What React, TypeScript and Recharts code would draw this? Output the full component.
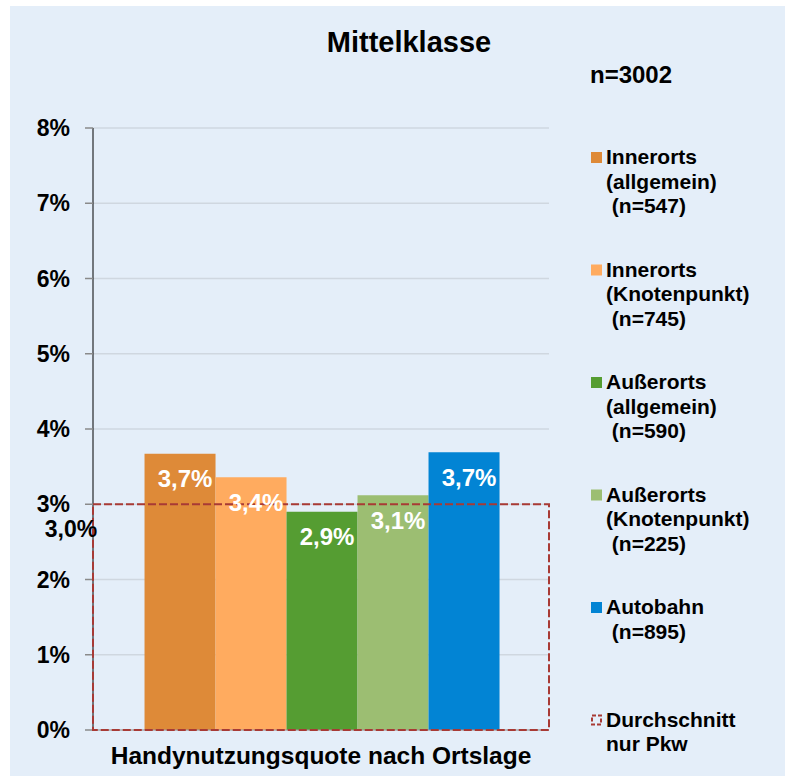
import React from "react";
import { BarChart, Bar, XAxis, YAxis, CartesianGrid, ReferenceArea, LabelList } from "recharts";

const title = "Mittelklasse";
const sampleSize = "n=3002";
const category = "Handynutzungsquote nach Ortslage";
const seriesKeys = ["innerAllg", "innerKnoten", "ausserAllg", "ausserKnoten", "autobahn"];
const seriesLegend = [
  ["Innerorts", "(allgemein)", " (n=547)"],
  ["Innerorts", "(Knotenpunkt)", " (n=745)"],
  ["Außerorts", "(allgemein)", " (n=590)"],
  ["Außerorts", "(Knotenpunkt)", " (n=225)"],
  ["Autobahn", " (n=895)"],
];
const values = [3.67, 3.36, 2.9, 3.12, 3.69];
const colors = ["#de8a38", "#ffab5f", "#559d32", "#9cbe72", "#0284d4"];
const average = 3.0;
const averageLegend = ["Durchschnitt", "nur Pkw"];
const yTicks = [0, 1, 2, 3, 4, 5, 6, 7, 8];

const FONT = "'Liberation Sans', Arial, Helvetica, sans-serif";
const AVG_COLOR = "#a83a35";

const row: Record<string, any> = { name: category };
seriesKeys.forEach((k, i) => {
  row[k] = values[i];
});
const data = [row];

const fmt = (v: number) => v.toFixed(1).replace(".", ",") + "%";

const BarLabel = (props: any) => {
  const { x, y, width, value } = props;
  return (
    <text
      x={Number(x) + Number(width) / 2 + 5}
      y={Number(y) + 25}
      fill="#ffffff"
      fontSize={24}
      fontWeight="bold"
      fontFamily={FONT}
      textAnchor="middle"
      dominantBaseline="central"
    >
      {fmt(Number(value))}
    </text>
  );
};

const AvgLabel = (props: any) => {
  const vb = props.viewBox || {};
  return (
    <text
      x={vb.x - 22}
      y={vb.y + 33}
      fill="#000"
      fontSize={23}
      fontWeight="bold"
      fontFamily={FONT}
      textAnchor="middle"
    >
      {fmt(average)}
    </text>
  );
};

const XTick = (props: any) => {
  const { x, y, payload } = props;
  return (
    <text x={x} y={y + 34} fill="#000" fontSize={24.5} fontWeight="bold" fontFamily={FONT} textAnchor="middle">
      {payload.value}
    </text>
  );
};

export default function App() {
  const legendTop = 152;
  const legendStep = 112.5;
  const lineStep = 24.5;
  return (
    <div style={{ position: "absolute", left: 0, top: 0, width: 785, height: 776, background: "#ffffff" }}>
      <div style={{ position: "absolute", left: 10, top: 6, right: 0, bottom: 0, background: "#e4eef9" }} />
      <div style={{ position: "absolute", left: 0, top: 0 }}>
        <BarChart
          width={785}
          height={776}
          data={data}
          margin={{ top: 128, right: 236, bottom: 0, left: 0 }}
          barCategoryGap="11.3%"
          barGap={0}
        >
          <CartesianGrid vertical={false} stroke="#cfd7e0" strokeWidth={1.5} />
          <XAxis
            dataKey="name"
            height={46}
            axisLine={{ stroke: "#9a9a9a" }}
            tickLine={false}
            tickSize={0}
            tickMargin={0}
            tick={<XTick />}
          />
          <YAxis
            width={93}
            domain={[0, 8]}
            ticks={yTicks}
            interval={0}
            tickFormatter={(v: number) => `${v}%`}
            axisLine={{ stroke: "#000" }}
            tickLine={{ stroke: "#8a8a8a", strokeWidth: 1.5 }}
            tickSize={8}
            tickMargin={15}
            tick={{ fill: "#000", fontSize: 23, fontWeight: "bold", fontFamily: FONT }}
          />
          {seriesKeys.map((k, i) => (
            <Bar key={k} dataKey={k} fill={colors[i]} isAnimationActive={false}>
              <LabelList dataKey={k} content={<BarLabel />} />
            </Bar>
          ))}
          <ReferenceArea
            y1={0}
            y2={average}
            fill="none"
            fillOpacity={0}
            stroke={AVG_COLOR}
            strokeWidth={2}
            strokeDasharray="8 3"
            label={<AvgLabel />}
            {...({ zIndex: 1000 } as any)}
          />
        </BarChart>
      </div>
      <svg
        width={785}
        height={776}
        style={{ position: "absolute", left: 0, top: 0, pointerEvents: "none" }}
        fontFamily={FONT}
        fontWeight="bold"
      >
        <text x={409} y={52} fontSize={29} textAnchor="middle" fill="#000">
          {title}
        </text>
        <text x={590} y={83} fontSize={24} fill="#000">
          {sampleSize}
        </text>
        {seriesLegend.map((lines, i) => {
          const top = legendTop + i * legendStep;
          return (
            <g key={i}>
              <rect x={591} y={top} width={11} height={11} fill={colors[i]} />
              {lines.map((ln, j) => (
                <text key={j} x={606} y={top + 12 + j * lineStep} fontSize={21} fill="#000" style={{ whiteSpace: "pre" }}>
                  {ln}
                </text>
              ))}
            </g>
          );
        })}
        {(() => {
          const top = legendTop + seriesLegend.length * legendStep;
          return (
            <g>
              <rect x={592} y={top + 1} width={9} height={9} fill="none" stroke={AVG_COLOR} strokeWidth={2} strokeDasharray="4 2" />
              {averageLegend.map((ln, j) => (
                <text key={j} x={606} y={top + 12 + j * lineStep} fontSize={21} fill="#000">
                  {ln}
                </text>
              ))}
            </g>
          );
        })()}
      </svg>
    </div>
  );
}
